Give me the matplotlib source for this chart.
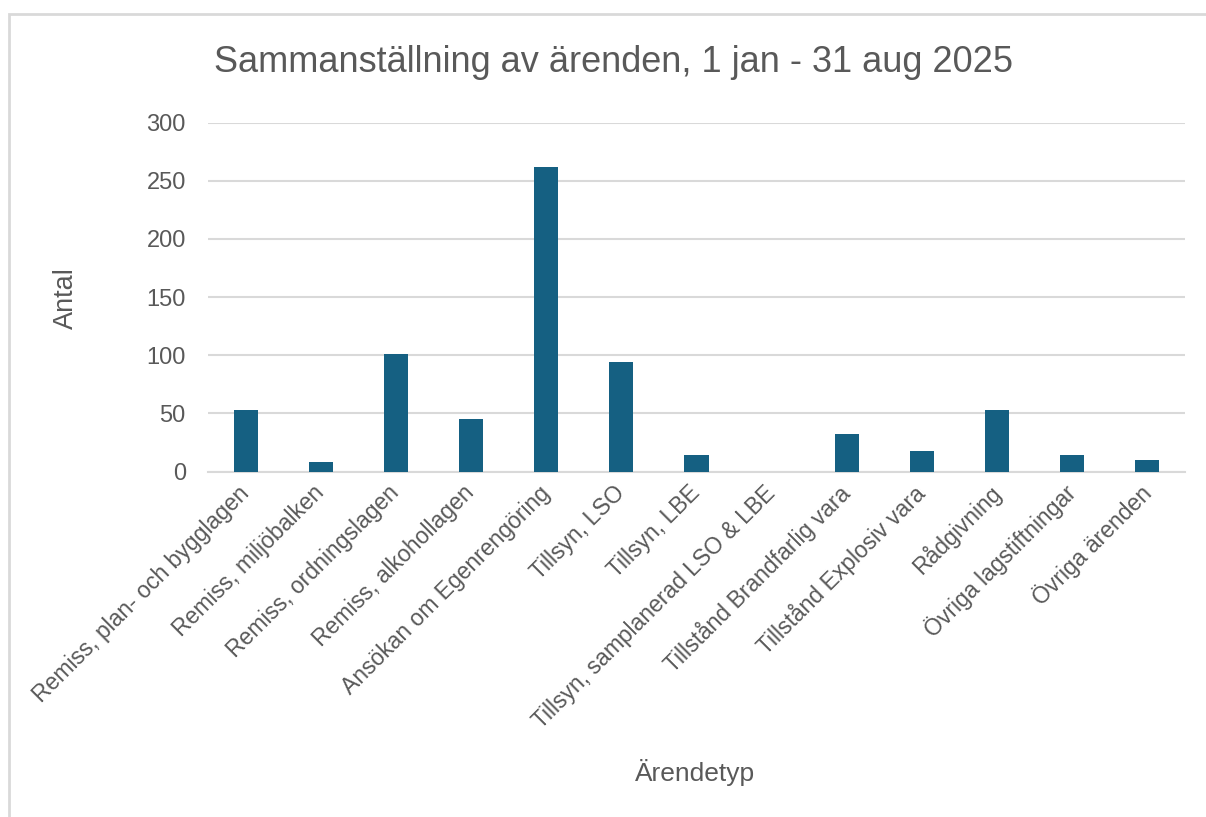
import matplotlib
matplotlib.use("Agg")
import matplotlib.pyplot as plt
from matplotlib.patches import Rectangle

categories = [
    "Remiss, plan- och bygglagen",
    "Remiss, miljöbalken",
    "Remiss, ordningslagen",
    "Remiss, alkohollagen",
    "Ansökan om Egenrengöring",
    "Tillsyn, LSO",
    "Tillsyn, LBE",
    "Tillsyn, samplanerad LSO & LBE",
    "Tillstånd Brandfarlig vara",
    "Tillstånd Explosiv vara",
    "Rådgivning",
    "Övriga lagstiftningar",
    "Övriga ärenden",
]
values = [53, 8, 101, 45, 262, 94, 14, 0, 32, 18, 53, 14, 10]
yticks = [0, 50, 100, 150, 200, 250, 300]

title = "Sammanställning av ärenden, 1 jan - 31 aug 2025"
xlabel = "Ärendetyp"
ylabel = "Antal"

font = "Liberation Sans"

W, H = 1206, 817
fig = plt.figure(figsize=(W / 100, H / 100), dpi=100)
fig.patch.set_facecolor("white")

# chart-area border (cropped at right/bottom)
fig.patches.append(Rectangle((9 / W, -0.1), 1.2, 1 - 14 / H + 0.1, transform=fig.transFigure,
                             fill=False, edgecolor="#D9D9D9", linewidth=2.0))

left, right = 208 / W, 1185 / W
bottom, top = 1 - 471.5 / H, 1 - 122.7 / H
ax = fig.add_axes([left, bottom, right - left, top - bottom])

text_col = "#595959"
x = list(range(len(categories)))
ax.bar(x, values, width=0.32, color="#156082", zorder=3)
ax.set_xlim(-0.5, len(categories) - 0.5)
ax.set_ylim(0, 300)
ax.set_yticks(yticks)
ax.set_yticklabels([str(v) for v in yticks], fontfamily=font, fontsize=17, color=text_col)
ax.yaxis.grid(True, color="#D9D9D9", linewidth=1.5, zorder=0)
ax.set_axisbelow(True)
for s in ax.spines.values():
    s.set_visible(False)
ax.spines["bottom"].set_visible(True)
ax.spines["bottom"].set_color("#D9D9D9")
ax.spines["bottom"].set_linewidth(1.5)
ax.tick_params(axis="both", length=0)
ax.tick_params(axis="y", pad=16)

ax.set_xticks(x)
ax.set_xticklabels(categories, rotation=45, ha="right", va="center", rotation_mode="anchor",
                   fontfamily=font, fontsize=16.5, color=text_col)
ax.tick_params(axis="x", pad=13)

fig.text(614 / W, 1 - 63 / H, title, ha="center", va="center", fontfamily=font,
         fontsize=26, color=text_col)
fig.text(66 / W, 1 - 298 / H, ylabel, ha="center", va="center", rotation=90,
         fontfamily=font, fontsize=19.5, color=text_col)
fig.text(695 / W, 1 - 772 / H, xlabel, ha="center", va="center",
         fontfamily=font, fontsize=19, color=text_col)

fig.savefig("out.png", dpi=100, facecolor="white")
